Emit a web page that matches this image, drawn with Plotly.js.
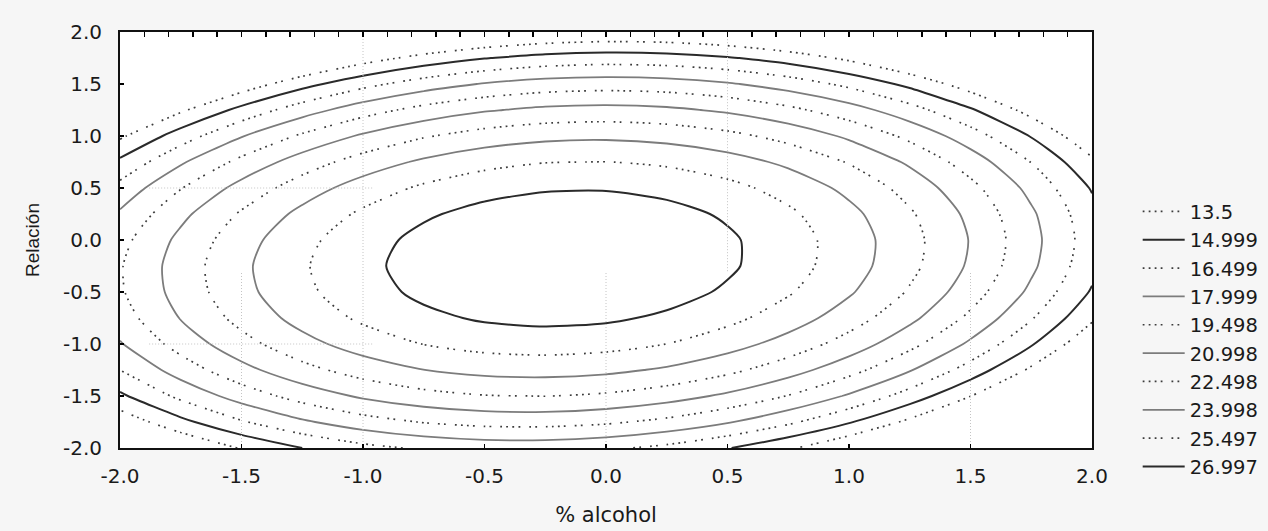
<!DOCTYPE html>
<html><head><meta charset="utf-8">
<script src="https://cdn.plot.ly/plotly-3.0.1.min.js"></script>
<style>html,body{margin:0;padding:0;background:#f6f6f6;}#chart{width:1268px;height:531px;}</style>
</head><body><div id="chart"></div>
<script>
// grid of the response surface (x = % alcohol, y = Relación)
const alcohol  = [-2,-1.75,-1.5,-1.25,-1,-0.75,-0.5,-0.25,0,0.25,0.5,0.75,1,1.25,1.5,1.75,2];
const relacion = [-2,-1.75,-1.5,-1.25,-1,-0.75,-0.5,-0.25,0,0.25,0.5,0.75,1,1.25,1.5,1.75,2];
const response = [
 [9.82,11.89,13.62,15.00,16.04,16.74,17.09,17.11,16.78,16.11,15.09,13.74,12.04,9.99,7.61,4.88,1.82],
 [12.48,14.59,16.35,17.77,18.85,19.58,19.98,20.03,19.74,19.10,18.12,16.80,15.14,13.14,10.79,8.10,5.07],
 [14.72,16.86,18.66,20.11,21.23,22.00,22.43,22.52,22.26,21.66,20.72,19.44,17.81,15.84,13.53,10.88,7.89],
 [16.51,18.69,20.53,22.02,23.17,23.98,24.45,24.57,24.35,23.79,22.89,21.64,20.05,18.12,15.85,13.23,10.27],
 [17.88,20.10,21.97,23.50,24.69,25.53,26.03,26.19,26.01,25.49,24.62,23.41,21.86,19.96,17.73,15.15,12.23],
 [18.81,21.07,22.98,24.54,25.77,26.65,27.19,27.39,27.24,26.75,25.92,24.75,23.23,21.38,19.17,16.63,13.75],
 [19.31,21.60,23.55,25.15,26.41,27.33,27.91,28.14,28.04,27.58,26.79,25.65,24.18,22.35,20.19,17.68,14.84],
 [19.38,21.71,23.69,25.33,26.63,27.59,28.20,28.47,28.40,27.98,27.23,26.13,24.68,22.90,20.77,18.30,15.49],
 [19.02,21.38,23.40,25.08,26.41,27.41,28.06,28.36,28.33,27.95,27.23,26.17,24.76,23.01,20.92,18.49,15.72],
 [18.22,20.62,22.68,24.39,25.76,26.79,27.48,27.82,27.82,27.48,26.80,25.77,24.41,22.69,20.64,18.24,15.51],
 [16.99,19.43,21.52,23.27,24.68,25.75,26.47,26.85,26.89,26.59,25.94,24.95,23.62,21.94,19.93,17.57,14.87],
 [15.33,17.80,19.93,21.72,23.17,24.27,25.03,25.45,25.52,25.25,24.64,23.69,22.40,20.76,18.78,16.46,13.79],
 [13.24,15.75,17.91,19.74,21.22,22.36,23.16,23.61,23.72,23.49,22.92,22.00,20.74,19.14,17.20,14.91,12.29],
 [10.71,13.26,15.46,17.32,18.84,20.02,20.85,21.34,21.49,21.30,20.76,19.88,18.66,17.09,15.19,12.94,10.35],
 [7.75,10.33,12.57,14.47,16.03,17.24,18.11,18.64,18.82,18.67,18.17,17.32,16.14,14.61,12.74,10.53,7.98],
 [4.36,6.98,9.26,11.19,12.78,14.03,14.94,15.50,15.73,15.61,15.14,14.34,13.19,11.70,9.87,7.69,5.17],
 [0.54,3.19,5.51,7.48,9.11,10.39,11.34,11.94,12.20,12.11,11.69,10.92,9.81,8.35,6.56,4.42,1.94]
];
const levels      = [13.5, 14.999, 16.499, 17.999, 19.498, 20.998, 22.498, 23.998, 25.497, 26.997];
const levelLabels = ['13.5','14.999','16.499','17.999','19.498','20.998','22.498','23.998','25.497','26.997'];
const tickVals = [-2,-1.5,-1,-0.5,0,0.5,1,1.5,2];
const tickText = ['-2.0','-1.5','-1.0','-0.5','0.0','0.5','1.0','1.5','2.0'];
// faint reference guide segments visible in the plot
const guideX = [-1,-1,null, 0.5,0.5,null, -1.5,-1.5,null, 0,0,null, 1.5,1.5,null, -1.88,-0.96,null, -1.88,-0.96];
const guideY = [-2,2,null, -0.3,2,null, -2,-0.3,null, -2,-0.3,null, -2,-0.3,null, 0.5,0.5,null, -1,-1];

const DOTS = '1.8px,4.2px,1.8px,4.2px,1.8px,4.2px,1.8px,9px,1.8px,4.2px,1.8px,9px';
function styleFor(i){
  if (i % 2 === 0) return {color:'#3c3c3c', width:1.7, dash:DOTS};
  if (i === 1 || i === levels.length-1) return {color:'#2a2a2a', width:2, dash:'solid'};
  return {color:'#7c7c7c', width:1.8, dash:'solid'};
}

const traces = [];
traces.push({type:'scatter', mode:'lines', x:guideX, y:guideY, xaxis:'x2', yaxis:'y',
  line:{color:'#c4c4c4', width:1, dash:'1px,2px'}, hoverinfo:'skip', showlegend:false, connectgaps:false});

levels.forEach((L,i)=>{
  const s = styleFor(i);
  traces.push({type:'contour', x:alcohol, y:relacion, z:response, showscale:false, hoverinfo:'skip',
    autocontour:false, contours:{start:L, end:L, size:1, coloring:'none', showlabels:false},
    line:{color:s.color, width:s.width, dash:s.dash, smoothing:0.7}, showlegend:false});
});
levels.forEach((L,i)=>{
  const s = styleFor(i);
  traces.push({type:'scatter', mode:'lines', x:[null], y:[null], name:levelLabels[i],
    line:{color:s.color, width:s.width, dash:s.dash}, hoverinfo:'skip'});
});

const layout = {
  width:1268, height:531,
  paper_bgcolor:'#f6f6f6', plot_bgcolor:'#ffffff',
  margin:{l:120, r:176, t:32, b:83, autoexpand:false},
  font:{family:'DejaVu Sans', size:20, color:'#1a1a1a'},
  showlegend:true,
  xaxis:{range:[-2,2], tickvals:tickVals, ticktext:tickText, ticks:'inside', ticklen:4, tickcolor:'#000', tickwidth:1.5,
    showline:true, linecolor:'#111', linewidth:2, mirror:true, showgrid:false, zeroline:false,
    ticklabelstandoff:9, title:{text:'% alcohol', font:{size:21}, standoff:20}},
  xaxis2:{range:[-2,2], overlaying:'x', side:'top', tick0:-2, dtick:0.1, ticks:'inside', ticklen:5, tickcolor:'#000', tickwidth:1.5,
    showticklabels:false, showline:false, showgrid:false, zeroline:false},
  yaxis:{range:[-2,2], tickvals:tickVals, ticktext:tickText, ticks:'inside', ticklen:4, tickcolor:'#000', tickwidth:1.5,
    showline:true, linecolor:'#111', linewidth:2, mirror:true, showgrid:false, zeroline:false,
    ticklabelstandoff:12, title:{text:'Relación', font:{family:'Liberation Sans', size:19}, standoff:18}},
  legend:{x:1.047, xanchor:'left', y:0.615, yanchor:'top', font:{size:19.5}, itemwidth:42,
    bgcolor:'rgba(0,0,0,0)', tracegroupgap:0, borderwidth:0}
};
Plotly.newPlot('chart', traces, layout, {displayModeBar:false, staticPlot:true});
</script></body></html>
